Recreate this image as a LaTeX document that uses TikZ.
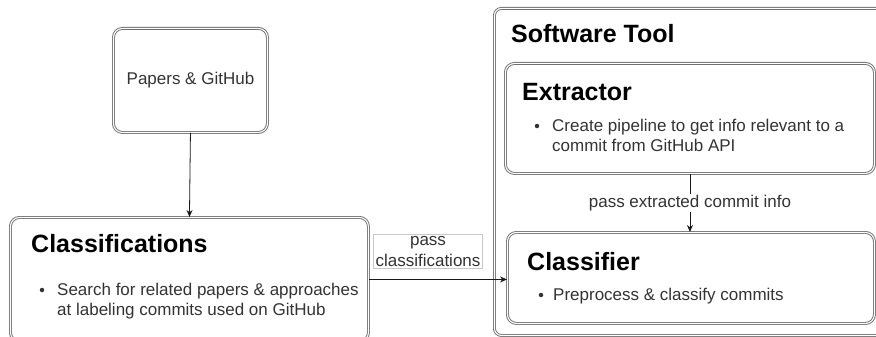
\documentclass[tikz,border=0pt]{standalone}
\usepackage{fontspec}
\setmainfont{Liberation Sans}
\usetikzlibrary{arrows.meta}
\definecolor{edge}{HTML}{6E6E6E}
\definecolor{lbl}{HTML}{C8C8C8}
\definecolor{bodytext}{HTML}{333333}

\begin{document}
\begin{tikzpicture}[x=1pt,y=-1pt,
  box/.style={draw=edge, double=white, double distance=1.1pt, line width=0.9pt,
              rounded corners=9pt, anchor=north west, inner sep=0pt},
  head/.style={anchor=base west, inner sep=0pt, font=\fontsize{25}{30}\selectfont\bfseries},
  body/.style={anchor=base west, inner sep=0pt, text=bodytext, font=\fontsize{17}{20}\selectfont},
  dot/.style={circle, fill=bodytext, inner sep=0pt, minimum size=4.5pt},
  arr/.style={draw=black!90, line width=0.8pt, -{Stealth[length=7pt,width=6pt]}},
]
\path[use as bounding box] (0,0) rectangle (876,337);
\begin{scope}
\clip (0,0) rectangle (876,337);

% boxes
\node[box, minimum width=154pt, minimum height=104pt] (src) at (113,28) {};
\node[box, minimum width=358pt, minimum height=124pt] (cls) at (10,217) {};
\node[box, minimum width=400pt, minimum height=327pt, rounded corners=7pt] (tool) at (494,8) {};
\node[box, minimum width=369pt, minimum height=110pt] (ext) at (505,63) {};
\node[box, minimum width=367pt, minimum height=91pt] (clf) at (507,232) {};

% source box text
\node[inner sep=0pt, text=bodytext, font=\fontsize{17}{20}\selectfont] (srct) at (src.center) {Papers \& GitHub};

% Classifications
\node[head] (clsh) at (31,252) {Classifications};
\node[dot] (clsd) at (42,290) {};
\node[body] (clsb1) at (57,295) {Search for related papers \& approaches};
\node[body] (clsb2) at (57,315.5) {at labeling commits used on GitHub};

% Software Tool container
\node[head] (toolh) at (511,43) {Software Tool};

% Extractor
\node[head] (exth) at (522,100) {Extractor};
\node[dot] (extd) at (537,126) {};
\node[body] (extb1) at (552,131) {Create pipeline to get info relevant to a};
\node[body] (extb2) at (552,151.5) {commit from GitHub API};

% Classifier
\node[head] (clfh) at (527,270) {Classifier};
\node[dot] (clfd) at (541,295) {};
\node[body] (clfb) at (553,300) {Preprocess \& classify commits};

% connectors
\draw[arr] (src.south) -- (cls.north);
\draw[arr] (cls.east) -- (cls.east -| clf.west);
\node[draw=lbl, line width=0.6pt, fill=white, align=center, inner sep=2pt,
      text=bodytext, font=\fontsize{17}{21}\selectfont] (lblc) at (428,251.5) {pass\\classifications};
\draw[arr] (ext.south) -- (ext.south |- clf.north)
  node[midway, fill=white, inner sep=1pt, text=bodytext, font=\fontsize{17}{20}\selectfont] (lble) {pass extracted commit info};
\end{scope}
\end{tikzpicture}
\end{document}
